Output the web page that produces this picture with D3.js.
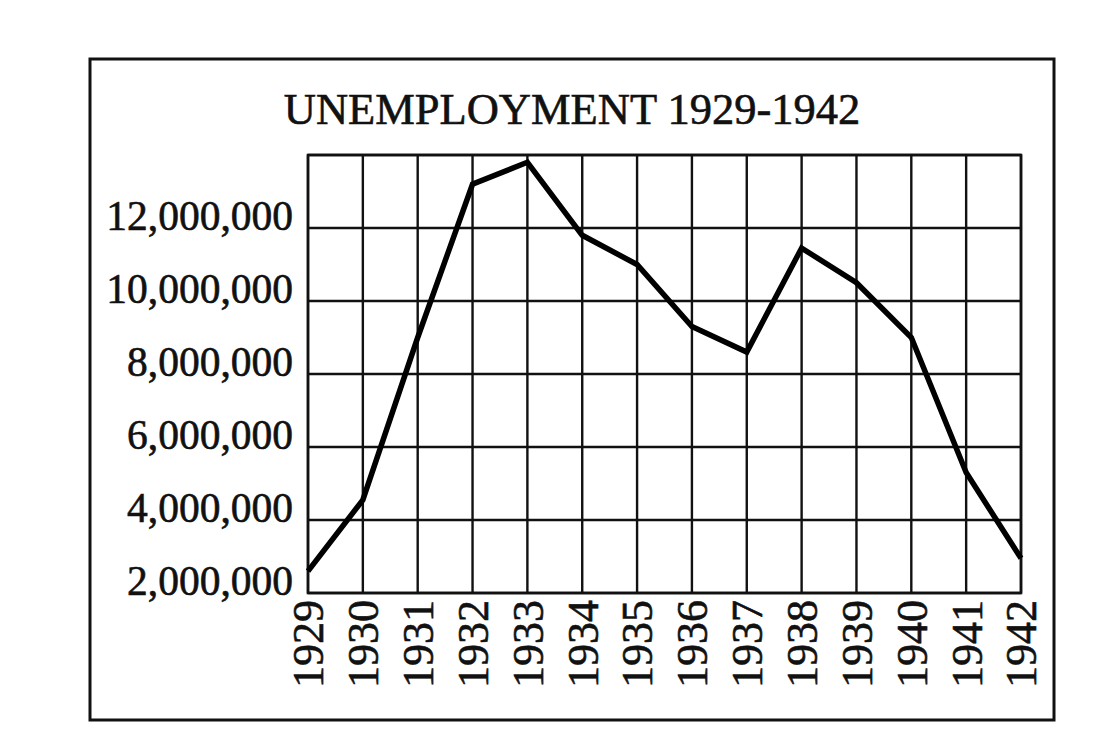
<!DOCTYPE html>
<html>
<head>
<meta charset="utf-8">
<script src="https://cdn.jsdelivr.net/npm/d3@7"></script>
<style>
  html, body { margin: 0; padding: 0; background: #fff; }
  svg { display: block; }
</style>
</head>
<body>
<svg id="chart" width="1104" height="746"></svg>
<script>
const years = [1929,1930,1931,1932,1933,1934,1935,1936,1937,1938,1939,1940,1941,1942];
const unemployed = [2600000,4550000,9000000,13200000,13800000,11800000,11000000,9300000,8600000,11450000,10500000,9000000,5300000,2950000];
const yTicks = [2000000,4000000,6000000,8000000,10000000,12000000];
const yGrid = [2000000,4000000,6000000,8000000,10000000,12000000,14000000];
const title = "UNEMPLOYMENT 1929-1942";

const svg = d3.select("#chart");
const font = "'Liberation Serif', 'Times New Roman', serif";

// outer frame
svg.append("rect").attr("x", 90).attr("y", 59).attr("width", 964).attr("height", 661)
  .attr("fill", "none").attr("stroke", "#111").attr("stroke-width", 3);

const x = d3.scaleLinear().domain([1929, 1942]).range([308, 1021]);
const y = d3.scaleLinear().domain([2000000, 14000000]).range([593, 155]);

// title
svg.append("text").attr("x", 572).attr("y", 124).attr("text-anchor", "middle")
  .attr("font-family", font).attr("font-size", 44.5).attr("fill", "#111")
  .attr("stroke", "#111").attr("stroke-width", 0.6).text(title);

// grid
const g = svg.append("g");
g.selectAll("line.v").data(years).join("line").attr("class", "v")
  .attr("x1", d => x(d)).attr("x2", d => x(d)).attr("y1", y(14000000)).attr("y2", y(2000000))
  .attr("stroke", "#111").attr("stroke-width", 2.4);
g.selectAll("line.h").data(yGrid).join("line").attr("class", "h")
  .attr("x1", x(1929)).attr("x2", x(1942)).attr("y1", d => y(d)).attr("y2", d => y(d))
  .attr("stroke", "#111").attr("stroke-width", 2.4);
g.append("rect").attr("x", x(1929)).attr("y", y(14000000))
  .attr("width", x(1942) - x(1929)).attr("height", y(2000000) - y(14000000))
  .attr("fill", "none").attr("stroke", "#111").attr("stroke-width", 2.6);

// y labels
const fmt = d3.format(",");
svg.selectAll("text.yl").data(yTicks).join("text").attr("class", "yl")
  .attr("x", 293).attr("y", d => y(d) + 1.5).attr("text-anchor", "end")
  .attr("font-family", font).attr("font-size", 41.5).attr("fill", "#111")
  .attr("stroke", "#111").attr("stroke-width", 0.6)
  .text(d => fmt(d));

// x labels rotated
svg.selectAll("text.xl").data(years).join("text").attr("class", "xl")
  .attr("transform", d => `translate(${x(d)},600) rotate(-90)`)
  .attr("text-anchor", "end").attr("dy", "0.35em")
  .attr("font-family", font).attr("font-size", 44).attr("fill", "#111")
  .attr("stroke", "#111").attr("stroke-width", 0.6)
  .text(d => d);

// data line
const line = d3.line().x((d, i) => x(years[i])).y(d => y(d));
svg.append("path").datum(unemployed).attr("d", line)
  .attr("fill", "none").attr("stroke", "#000").attr("stroke-width", 5.5)
  .attr("stroke-linejoin", "miter");
</script>
</body>
</html>
